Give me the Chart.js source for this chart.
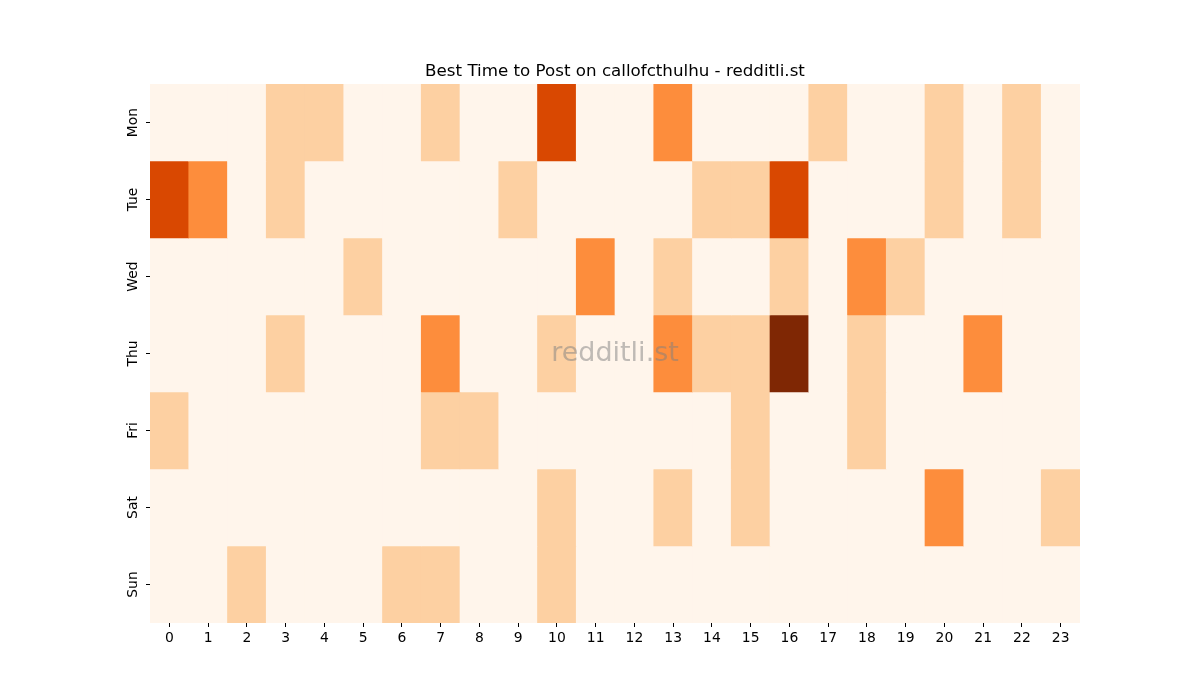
<!DOCTYPE html>
<html>
<head>
<meta charset="utf-8">
<script src="https://cdn.jsdelivr.net/npm/chart.js@4"></script>
<style>
  html, body { margin: 0; padding: 0; background: #fff; }
  #wrap { width: 1200px; height: 700px; }
</style>
</head>
<body>
<div id="wrap"><canvas id="grafica"></canvas></div>
<script>
const horas = ['0','1','2','3','4','5','6','7','8','9','10','11','12','13','14','15','16','17','18','19','20','21','22','23'];
const dias = ['Mon', 'Tue', 'Wed', 'Thu', 'Fri', 'Sat', 'Sun'];

// one row per day, one value per hour
const valoresMon = [0,0,0,1,1,0,0,1,0,0,3,0,0,2,0,0,0,1,0,0,1,0,1,0];
const valoresTue = [3,2,0,1,0,0,0,0,0,1,0,0,0,0,1,1,3,0,0,0,1,0,1,0];
const valoresWed = [0,0,0,0,0,1,0,0,0,0,0,2,0,1,0,0,1,0,2,1,0,0,0,0];
const valoresThu = [0,0,0,1,0,0,0,2,0,0,1,0,0,2,1,1,4,0,1,0,0,2,0,0];
const valoresFri = [1,0,0,0,0,0,0,1,1,0,0,0,0,0,0,1,0,0,1,0,0,0,0,0];
const valoresSat = [0,0,0,0,0,0,0,0,0,0,1,0,0,1,0,1,0,0,0,0,2,0,0,1];
const valoresSun = [0,0,1,0,0,0,1,1,0,0,1,0,0,0,0,0,0,0,0,0,0,0,0,0];

const filas = [valoresMon, valoresTue, valoresWed, valoresThu, valoresFri, valoresSat, valoresSun];

// Oranges colormap, 0..4
const colores = ['#fff5eb', '#fdd0a2', '#fd8d3c', '#d94801', '#7f2704'];

const titulo = 'Best Time to Post on callofcthulhu - redditli.st';
const fuente = 'DejaVu Sans';

const datasets = filas.map(function (fila, d) {
    return {
        label: dias[d],
        data: fila.map(function () { return [d, d + 1]; }),
        backgroundColor: fila.map(function (v) { return colores[v]; }),
        borderWidth: 0,
        grouped: false,
        barPercentage: 1,
        categoryPercentage: 1
    };
});

const extras = {
    id: 'extras',
    afterDraw(chart) {
        const ctx = chart.ctx;
        const area = chart.chartArea;
        const cx = (area.left + area.right) / 2;
        ctx.save();
        ctx.textAlign = 'center';
        ctx.textBaseline = 'middle';
        ctx.fillStyle = 'rgba(128,128,128,0.5)';
        ctx.font = '27px "' + fuente + '"';
        ctx.fillText('redditli.st', cx, (area.top + area.bottom) / 2);
        ctx.fillStyle = '#000';
        ctx.font = '16.7px "' + fuente + '"';
        ctx.textBaseline = 'alphabetic';
        ctx.fillText(titulo, cx, area.top - 8);
        ctx.restore();
    }
};

new Chart(document.getElementById('grafica'), {
    type: 'bar',
    data: { labels: horas, datasets: datasets },
    options: {
        responsive: true,
        maintainAspectRatio: false,
        animation: false,
        layout: { padding: { top: 84, right: 120, left: 0, bottom: 0 } },
        plugins: {
            legend: { display: false },
            tooltip: { enabled: false },
            title: { display: false }
        },
        scales: {
            x: {
                type: 'category',
                offset: true,
                border: { display: false },
                grid: { offset: false, drawOnChartArea: false, drawTicks: true, tickLength: 4, color: '#000' },
                ticks: { color: '#000', font: { family: fuente, size: 13.9 }, padding: 3, maxRotation: 0, autoSkip: false },
                afterFit(scale) { scale.height = 77; }
            },
            y: {
                type: 'linear',
                min: 0,
                max: 7,
                reverse: true,
                border: { display: false },
                grid: { drawOnChartArea: false, drawTicks: true, tickLength: 4, color: '#000' },
                afterBuildTicks(scale) {
                    scale.ticks = dias.map(function (_, i) { return { value: i + 0.5 }; });
                },
                ticks: {
                    color: '#000',
                    font: { family: fuente, size: 13.9 },
                    minRotation: 90,
                    maxRotation: 90,
                    crossAlign: 'center',
                    padding: -3,
                    callback: function (value, index) { return dias[index]; }
                },
                afterFit(scale) { scale.width = 150; }
            }
        }
    },
    plugins: [extras]
});
</script>
</body>
</html>
